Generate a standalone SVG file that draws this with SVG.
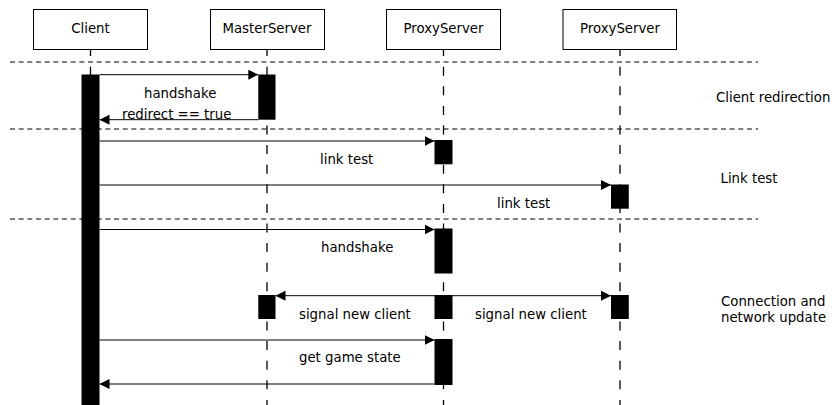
<svg xmlns="http://www.w3.org/2000/svg" width="834" height="405" viewBox="0 0 834 405">
<style>
text{font-family:"DejaVu Sans","Liberation Sans",sans-serif;font-size:13.3px;fill:#000}
.box{fill:#fff;stroke:#000;stroke-width:1}
.life{stroke:#000;stroke-width:1.3;stroke-dasharray:9 10.6;stroke-dashoffset:1.9}
.sep{stroke:#000;stroke-width:1;stroke-dasharray:5 3.67;fill:none}
.act{fill:#000}
.msg{stroke:#000;stroke-width:1;fill:none}
.lbl{text-anchor:start}
</style>
<defs>
<marker id="ah" markerUnits="userSpaceOnUse" markerWidth="10" markerHeight="10" refX="10" refY="5" orient="auto-start-reverse" viewBox="0 0 10 10">
<path d="M0,0 L10,5 L0,10 z" fill="#000"/>
</marker>
</defs>
<g id="separators">
<line class="sep" x1="10" y1="62" x2="758" y2="62"/>
<line class="sep" x1="10" y1="129" x2="758" y2="129"/>
<line class="sep" x1="10" y1="219" x2="758" y2="219"/>
</g>
<g id="lifelines">
<line class="life" x1="90.5" y1="49" x2="90.5" y2="405"/>
<line class="life" x1="267" y1="49" x2="267" y2="405"/>
<line class="life" x1="443.5" y1="49" x2="443.5" y2="405"/>
<line class="life" x1="620" y1="49" x2="620" y2="405"/>
</g>
<g id="client">
<rect class="box" x="33.5" y="9.5" width="114" height="40"/>
<text x="90.5" y="33" text-anchor="middle">Client</text>
<rect class="act" x="81.5" y="74.5" width="18" height="331"/>
</g>
<g id="masterserver">
<rect class="box" x="210.5" y="9.5" width="114" height="40"/>
<text x="267" y="33" text-anchor="middle">MasterServer</text>
<rect class="act" x="258.3" y="74.5" width="17.2" height="45.2"/>
<rect class="act" x="258.3" y="295" width="17.2" height="24"/>
</g>
<g id="proxyserver1">
<rect class="box" x="386.5" y="9.5" width="114" height="40"/>
<text x="443.5" y="33" text-anchor="middle">ProxyServer</text>
<rect class="act" x="434.5" y="140" width="18" height="24.3"/>
<rect class="act" x="434.5" y="228.5" width="18" height="45"/>
<rect class="act" x="434.5" y="295" width="18" height="24"/>
<rect class="act" x="434.5" y="339" width="18" height="46"/>
</g>
<g id="proxyserver2">
<rect class="box" x="563" y="9.5" width="113.5" height="40"/>
<text x="620" y="33" text-anchor="middle">ProxyServer</text>
<rect class="act" x="611" y="184.5" width="17.8" height="24.2"/>
<rect class="act" x="611" y="295" width="17.8" height="24"/>
</g>
<g id="connectors">
<line class="msg" x1="99.5" y1="74.7" x2="258.3" y2="74.7" marker-end="url(#ah)"/>
<line class="msg" x1="258.3" y1="119.7" x2="99.5" y2="119.7" marker-end="url(#ah)"/>
<line class="msg" x1="99.5" y1="141" x2="434.5" y2="141" marker-end="url(#ah)"/>
<line class="msg" x1="99.5" y1="185" x2="611" y2="185" marker-end="url(#ah)"/>
<line class="msg" x1="99.5" y1="229.5" x2="434.5" y2="229.5" marker-end="url(#ah)"/>
<line class="msg" x1="275.5" y1="295.7" x2="611" y2="295.7" marker-start="url(#ah)" marker-end="url(#ah)"/>
<line class="msg" x1="99.5" y1="340" x2="434.5" y2="340" marker-end="url(#ah)"/>
<line class="msg" x1="434.5" y1="384" x2="99.5" y2="384" marker-end="url(#ah)"/>
</g>
<g id="labels">
<text class="lbl" x="144" y="97.5">handshake</text>
<text class="lbl" x="122" y="118.5">redirect == true</text>
<text class="lbl" x="320" y="164">link test</text>
<text class="lbl" x="497" y="207.5">link test</text>
<text class="lbl" x="321" y="252">handshake</text>
<text class="lbl" x="299" y="318.5">signal new client</text>
<text class="lbl" x="475" y="318.5">signal new client</text>
<text class="lbl" x="299" y="362">get game state</text>
</g>
<g id="sections">
<text class="lbl" x="716" y="101.5">Client redirection</text>
<text class="lbl" x="720.5" y="182.5">Link test</text>
<text class="lbl" x="721" y="305.5">Connection and</text>
<text class="lbl" x="721" y="322">network update</text>
</g>
</svg>
